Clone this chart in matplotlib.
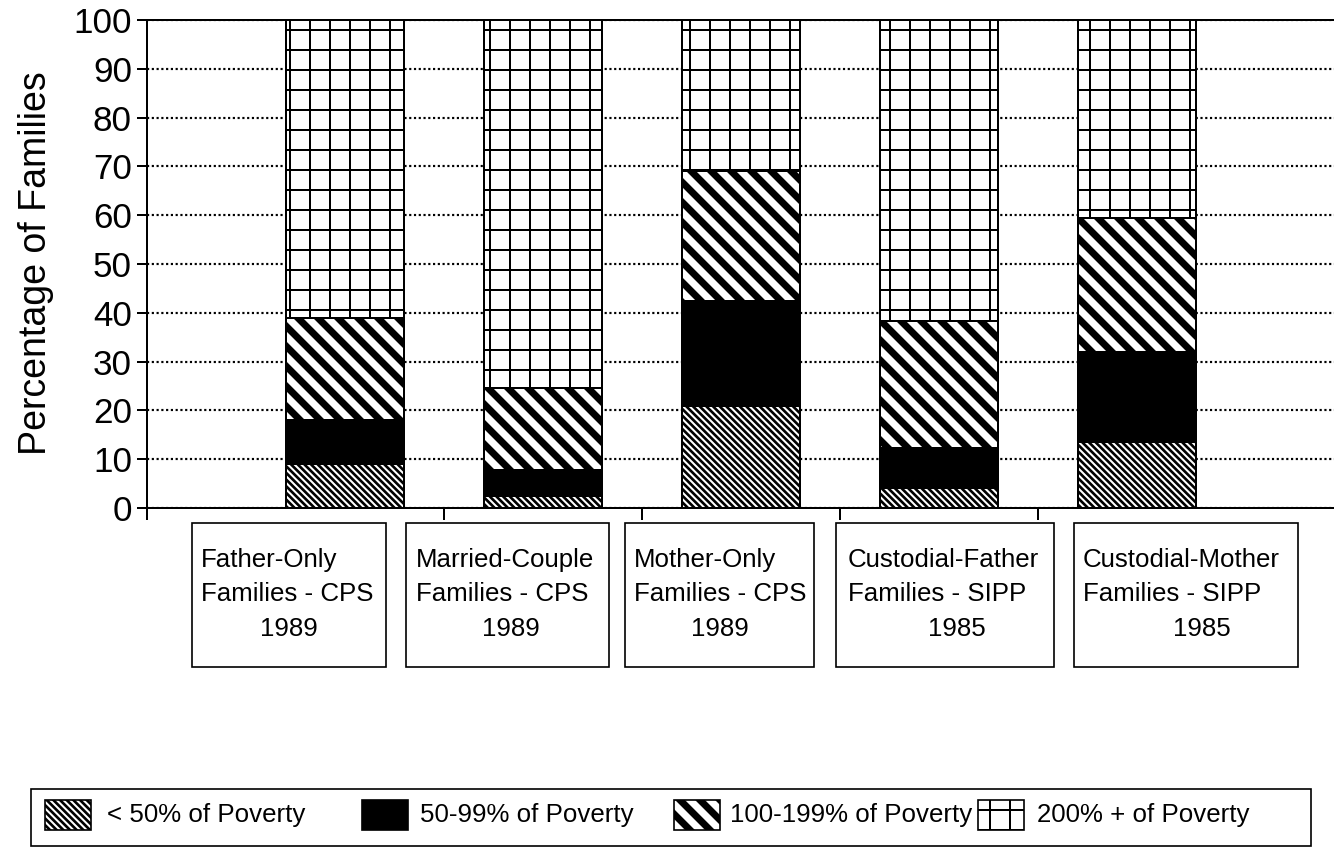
import matplotlib
matplotlib.use("Agg")
import matplotlib as mpl
import matplotlib.pyplot as plt
from matplotlib.patches import Rectangle

plt.rcParams['font.family'] = ['Liberation Sans', 'DejaVu Sans']

# ---------------- data ----------------
cat_line1 = ["Father-Only", "Married-Couple", "Mother-Only", "Custodial-Father", "Custodial-Mother"]
cat_line2 = ["Families - CPS", "Families - CPS", "Families - CPS", "Families - SIPP", "Families - SIPP"]
cat_year = ["1989", "1989", "1989", "1985", "1985"]

series_names = ["< 50% of Poverty", "50-99% of Poverty", "100-199% of Poverty", "200% + of Poverty"]
lt50 = [9.0, 2.5, 21.0, 4.0, 13.6]
p50_99 = [9.0, 5.3, 21.5, 8.2, 18.4]
p100_199 = [21.0, 16.7, 26.5, 26.2, 27.5]
p200_plus = [61.0, 75.5, 31.0, 61.6, 40.5]
yticks = [0, 10, 20, 30, 40, 50, 60, 70, 80, 90, 100]

# ---------------- layout ----------------
DPI = 120
W, H = 1334, 849
fig = plt.figure(figsize=(W / DPI, H / DPI), dpi=DPI)
fig.patch.set_facecolor('white')


def fx(px):
    return px / W


def fy(py):
    return 1 - py / H


def set_hatch_lw(artist, lw):
    if hasattr(artist, 'set_hatch_linewidth'):
        try:
            artist.set_hatch_linewidth(lw)
        except Exception:
            pass
    orig = artist.draw

    def draw(renderer, *a, **k):
        with mpl.rc_context({'hatch.linewidth': lw}):
            return orig(renderer, *a, **k)
    artist.draw = draw


styles = [
    dict(fc='white', hatch='\\' * 6, hlw=1.6),
    dict(fc='black', hatch=None, hlw=1.0),
    dict(fc='white', hatch='\\' * 2, hlw=4.2),
    dict(fc='white', hatch='+', hlw=1.2),
]

ax = fig.add_axes([fx(147), fy(508), (1335 - 147) / W, (508 - 20) / H])
xpos = list(range(1, len(cat_line1) + 1))
bottom = [0.0] * len(xpos)
for vals, st in zip([lt50, p50_99, p100_199, p200_plus], styles):
    bars = ax.bar(xpos, vals, width=0.6, bottom=bottom, facecolor=st['fc'],
                  edgecolor='black', linewidth=1.2, hatch=st['hatch'], zorder=3)
    for b in bars:
        set_hatch_lw(b, st['hlw'])
    bottom = [b + v for b, v in zip(bottom, vals)]

ax.set_xlim(0, 6)
ax.set_ylim(0, 100)
ax.set_yticks(yticks)
ax.set_yticklabels([str(t) for t in yticks], fontsize=21)
ax.set_xticks([0, 1.5, 2.5, 3.5, 4.5])
ax.set_xticklabels([])
ax.tick_params(axis='y', direction='out', length=6, width=1.2, pad=3, colors='black')
ax.tick_params(axis='x', direction='out', length=7, width=1.2)
ax.yaxis.grid(True, linestyle=(0, (1, 1.2)), color='black', linewidth=1.3, zorder=1)
ax.set_axisbelow(True)
for s in ['left', 'bottom', 'top']:
    ax.spines[s].set_linewidth(1.2)
    ax.spines[s].set_color('black')
ax.spines['right'].set_visible(False)

fig.text(fx(36), fy(263), "Percentage of Families", rotation=90, fontsize=22.5,
         ha='center', va='center')

# ---------------- category boxes ----------------
box_left = [192, 406, 625, 836, 1074]
box_right = [386, 609, 814, 1054, 1298]
box_top, box_bottom = 523, 667
text_left = [201, 416, 634, 848, 1083]
year_center = [289, 511, 720, 957, 1202]
for i in range(len(cat_line1)):
    fig.add_artist(Rectangle((fx(box_left[i]), fy(box_bottom)),
                             (box_right[i] - box_left[i]) / W, (box_bottom - box_top) / H,
                             transform=fig.transFigure, fill=False, edgecolor='black', linewidth=1.0))
    fig.text(fx(text_left[i]), fy(567), cat_line1[i], fontsize=15.5, ha='left', va='baseline')
    fig.text(fx(text_left[i]), fy(601), cat_line2[i], fontsize=15.5, ha='left', va='baseline')
    fig.text(fx(year_center[i]), fy(636), cat_year[i], fontsize=15.5, ha='center', va='baseline')

# ---------------- legend ----------------
fig.add_artist(Rectangle((fx(31), fy(846)), (1311 - 31) / W, (846 - 789) / H,
                         transform=fig.transFigure, fill=False, edgecolor='black', linewidth=1.0))
leg_patch_x = [45, 362, 674, 978]
leg_text_x = [107, 420, 730, 1037]
for i, st in enumerate(styles):
    r = Rectangle((fx(leg_patch_x[i]), fy(830)), 46 / W, 30 / H, transform=fig.transFigure,
                  facecolor=st['fc'], edgecolor='black', linewidth=1.0, hatch=st['hatch'])
    set_hatch_lw(r, st['hlw'])
    fig.add_artist(r)
    fig.text(fx(leg_text_x[i]), fy(815), series_names[i], fontsize=15.5, ha='left', va='center')

fig.savefig("out.png", dpi=DPI, facecolor='white')
